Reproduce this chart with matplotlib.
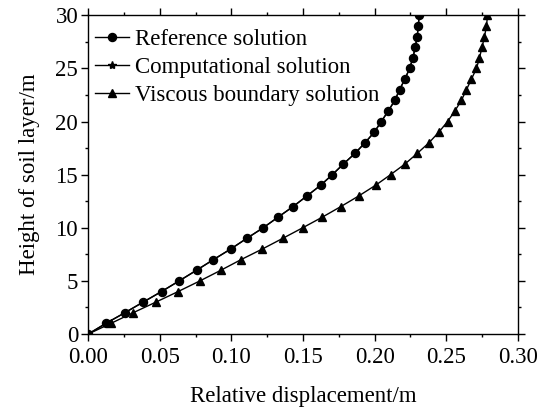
import matplotlib
matplotlib.use("Agg")
import matplotlib.pyplot as plt
from matplotlib.ticker import MultipleLocator, FormatStrFormatter

heights = list(range(0, 31))
reference = [0.0, 0.0123, 0.0255, 0.0383, 0.0512, 0.0635, 0.0756, 0.0874, 0.0995, 0.1107,
             0.1222, 0.1326, 0.1431, 0.1528, 0.1623, 0.1705, 0.1782, 0.1863, 0.1933, 0.1998,
             0.2047, 0.2096, 0.2142, 0.2175, 0.2212, 0.2245, 0.2268, 0.2284, 0.2298, 0.2305, 0.2312]
computational = list(reference)
viscous = [0.0, 0.0158, 0.0313, 0.0472, 0.0628, 0.0780, 0.0926, 0.1067, 0.1216, 0.1358,
           0.1498, 0.1635, 0.1765, 0.1890, 0.2007, 0.2112, 0.2212, 0.2298, 0.2380, 0.2449,
           0.2510, 0.2561, 0.2607, 0.2642, 0.2677, 0.2712, 0.2733, 0.2751, 0.2768, 0.2782, 0.2789]

plt.rcParams['font.family'] = ['Liberation Serif', 'DejaVu Serif']

FS = 16.5
W, H = 539, 407
fig = plt.figure(figsize=(W/100, H/100), dpi=100)
L, R, T, B = 88.3, 517.7, 15.3, 334.0
ax = fig.add_axes([L/W, 1-B/H, (R-L)/W, (B-T)/H])

ax.plot(reference, heights, color='black', lw=1.0, marker='o', ms=5.8, label='Reference solution')
ax.plot(computational, heights, color='black', lw=1.0, marker='*', ms=6, label='Computational solution')
ax.plot(viscous, heights, color='black', lw=1.0, marker='^', ms=6, label='Viscous boundary solution')

ax.set_xlim(0, 0.30)
ax.set_ylim(0, 30)
ax.xaxis.set_major_locator(MultipleLocator(0.05))
ax.xaxis.set_minor_locator(MultipleLocator(0.025))
ax.yaxis.set_major_locator(MultipleLocator(5))
ax.yaxis.set_minor_locator(MultipleLocator(2.5))
ax.xaxis.set_major_formatter(FormatStrFormatter('%.2f'))
ax.tick_params(which='both', direction='out', top=True, right=True, labelsize=FS, width=1.0)
ax.tick_params(which='major', length=4.8)
ax.tick_params(which='minor', length=2.4)
ax.tick_params(axis='x', which='major', pad=4.5)
ax.tick_params(axis='y', which='major', pad=2.5)
for s in ax.spines.values():
    s.set_linewidth(1.0)

ax.set_xlabel('Relative displacement/m', fontsize=FS, labelpad=13)
ax.set_ylabel('Height of soil layer/m', fontsize=FS, labelpad=11)

ax.legend(loc='upper left', bbox_to_anchor=(95/W, 1-29/H), bbox_transform=fig.transFigure,
          frameon=False, fontsize=FS, handlelength=1.5,
          handletextpad=0.25, labelspacing=0.3, borderaxespad=0.0, borderpad=0.0)

fig.savefig('out.png', dpi=100)
